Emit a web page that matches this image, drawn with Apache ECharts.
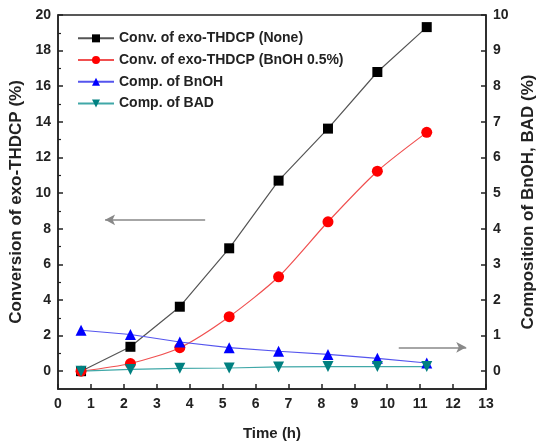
<!DOCTYPE html>
<html>
<head>
<meta charset="utf-8">
<script src="https://cdn.jsdelivr.net/npm/echarts@6/dist/echarts.min.js"></script>
<style>html,body{margin:0;padding:0;background:#fff;}#c{width:538px;height:444px;}</style>
</head>
<body>
<div id="c"></div>
<script>
var times = [0.7, 2.2, 3.7, 5.2, 6.7, 8.2, 9.7, 11.2];
var convNone = [0, 1.37, 3.62, 6.9, 10.7, 13.62, 16.8, 19.32];
var convBnOH = [0, 0.43, 1.32, 3.06, 5.3, 8.39, 11.23, 13.41];
var compBnOH = [1.15, 1.03, 0.82, 0.66, 0.56, 0.47, 0.36, 0.23];
var compBAD = [0, 0.05, 0.08, 0.09, 0.12, 0.13, 0.13, 0.13];
var leftTicks = [0, 2, 4, 6, 8, 10, 12, 14, 16, 18, 20];
var leftMinor = [1, 3, 5, 7, 9, 11, 13, 15, 17, 19];
var rightTicks = [0, 1, 2, 3, 4, 5, 6, 7, 8, 9, 10];
var leftArrow = [[4.47, 8.5], [1.43, 8.5]];
var rightArrow = [[10.35, 0.67], [12.4, 0.67]];
var names = ['Conv. of exo-THDCP (None)', 'Conv. of exo-THDCP (BnOH 0.5%)', 'Comp. of BnOH', 'Comp. of BAD'];

function pairs(ys) { return times.map(function (t, i) { return [t, ys[i]]; }); }

var font = 'Arial, "Liberation Sans", sans-serif';
var chart = echarts.init(document.getElementById('c'));
var arrowStyle = { color: '#888', width: 1.5, type: 'solid' };
chart.setOption({
  animation: false,
  grid: { left: 58, right: 52, top: 15, bottom: 55, outerBoundsMode: 'none', containLabel: false, show: true, borderColor: '#222', borderWidth: 1.5, backgroundColor: 'transparent' },
  legend: {
    orient: 'vertical', left: 77, top: 30, itemWidth: 36, itemHeight: 10, itemGap: 5, padding: 0,
    textStyle: { fontFamily: font, fontWeight: 'bold', fontSize: 14, color: '#222', lineHeight: 16.7 },
    data: names
  },
  xAxis: {
    type: 'value', min: 0, max: 13, interval: 1,
    name: 'Time (h)', nameLocation: 'middle', nameGap: 37,
    nameTextStyle: { fontFamily: font, fontWeight: 'bold', fontSize: 15, color: '#222' },
    axisLine: { onZero: false, lineStyle: { color: '#222', width: 1.5 } },
    axisTick: { inside: true, length: 5, lineStyle: { color: '#222', width: 1.5 } },
    axisLabel: { margin: 8, fontFamily: font, fontWeight: 'bold', fontSize: 14, color: '#222' },
    splitLine: { show: false }
  },
  yAxis: [
    {
      type: 'value', min: -1, max: 20, position: 'left',
      name: 'Conversion of exo-THDCP (%)', nameLocation: 'middle', nameGap: 29,
      nameTextStyle: { fontFamily: font, fontWeight: 'bold', fontSize: 17, color: '#222' },
      axisLine: { show: true, onZero: false, lineStyle: { color: '#222', width: 1.5 } },
      axisTick: { inside: true, length: 5, customValues: leftTicks, lineStyle: { color: '#222', width: 1.5 } },
      axisLabel: { margin: 7, customValues: leftTicks, fontFamily: font, fontWeight: 'bold', fontSize: 14, color: '#222' },
      splitLine: { show: false }
    },
    {
      type: 'value', min: -1, max: 20, position: 'left',
      axisLine: { show: false, onZero: false },
      axisTick: { show: true, inside: true, length: 3, customValues: leftMinor, lineStyle: { color: '#222', width: 1.2 } },
      axisLabel: { show: false },
      splitLine: { show: false }
    },
    {
      type: 'value', min: -0.5, max: 10, position: 'right',
      name: 'Composition of BnOH, BAD (%)', nameLocation: 'middle', nameGap: 31, nameRotate: 90,
      nameTextStyle: { fontFamily: font, fontWeight: 'bold', fontSize: 17, color: '#222' },
      axisLine: { show: true, onZero: false, lineStyle: { color: '#222', width: 1.5 } },
      axisTick: { inside: true, length: 5, customValues: rightTicks, lineStyle: { color: '#222', width: 1.5 } },
      axisLabel: { margin: 7, customValues: rightTicks, fontFamily: font, fontWeight: 'bold', fontSize: 14, color: '#222' },
      splitLine: { show: false }
    }
  ],
  series: [
    {
      name: names[0], type: 'line', yAxisIndex: 0, data: pairs(convNone),
      symbol: 'rect', symbolSize: 10, itemStyle: { color: '#000' },
      lineStyle: { color: '#555', width: 1.2 },
      markLine: {
        silent: true, symbol: ['none', 'arrow'], symbolSize: [8, 10], label: { show: false },
        lineStyle: arrowStyle,
        data: [[{ coord: leftArrow[0] }, { coord: leftArrow[1] }]]
      }
    },
    {
      name: names[1], type: 'line', yAxisIndex: 0, data: pairs(convBnOH), smooth: 0.25,
      symbol: 'circle', symbolSize: 11, itemStyle: { color: '#ff0000' },
      lineStyle: { color: '#f05050', width: 1.2 }
    },
    {
      name: names[2], type: 'line', yAxisIndex: 2, data: pairs(compBnOH),
      symbol: 'triangle', symbolSize: 11, itemStyle: { color: '#0000ff' },
      lineStyle: { color: '#5555ee', width: 1.2 },
      markLine: {
        silent: true, symbol: ['none', 'arrow'], symbolSize: [8, 10], label: { show: false },
        lineStyle: arrowStyle,
        data: [[{ coord: rightArrow[0] }, { coord: rightArrow[1] }]]
      }
    },
    {
      name: names[3], type: 'line', yAxisIndex: 2, data: pairs(compBAD),
      symbol: 'triangle', symbolRotate: 180, symbolSize: 11, itemStyle: { color: '#008080' },
      lineStyle: { color: '#40a8a8', width: 1.2 }
    }
  ]
});
</script>
</body>
</html>
